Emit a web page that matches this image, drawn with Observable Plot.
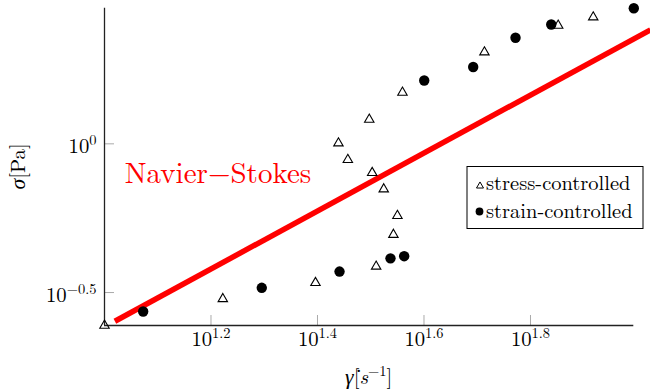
<!DOCTYPE html>
<html><head><meta charset="utf-8">
<script src="https://cdn.jsdelivr.net/npm/d3@7"></script>
<script src="https://cdn.jsdelivr.net/npm/@observablehq/plot@0.6"></script>
<style>body{margin:0;background:#fff} svg{display:block}</style>
</head><body><div id="chart"></div>
<script>
// ---- data ----
const stressRate  = [10.0, 16.68, 24.90, 32.37, 34.88, 35.49, 33.45, 31.82, 28.64, 27.50, 31.42, 36.27, 51.70, 71.12, 82.76];
const stressSigma = [0.245, 0.301, 0.341, 0.387, 0.495, 0.573, 0.704, 0.799, 0.884, 1.005, 1.207, 1.488, 2.033, 2.500, 2.666];
const strainRate  = [11.82, 19.74, 27.63, 34.44, 36.54, 39.85, 49.25, 59.14, 69.02, 98.63];
const strainSigma = [0.273, 0.328, 0.372, 0.412, 0.419, 1.633, 1.813, 2.273, 2.519, 2.858];
const nsRate  = [10.46, 106.0];
const nsSigma = [0.2532, 2.418];
const xTickExps = [1.2, 1.4, 1.6, 1.8];
const yTickExps = [-0.5, 0];
const seriesNames = ["stress-controlled", "strain-controlled"];
const annotationText = "Navier\u2212Stokes";

// ---- build ----
const W = 650, H = 391;
const mL = 104, mR = 650 - 633.3, mT = 7.7, mB = 391 - 325;
const plotW = W - mL - mR, plotH = H - mT - mB;
const stress = stressRate.map((x, i) => ({x, y: stressSigma[i]}));
const strain = strainRate.map((x, i) => ({x, y: strainSigma[i]}));
const ns = nsRate.map((x, i) => ({x, y: nsSigma[i]}));
const xDom = d3.extent([...stressRate, ...strainRate]);
const yDom = d3.extent([...stressSigma, ...strainSigma]);
const xTicks = xTickExps.map(e => 10 ** e);
const yTicks = yTickExps.map(e => 10 ** e);
const expOf = v => { const e = Math.round(Math.log10(v) * 10) / 10; return e === 0 ? "0" : (e < 0 ? "\u2212" : "") + Math.abs(e); };
const FONT = "Latin Modern Roman";
const GREEK = "Liberation Serif";
const FS = 20.7, FSUP = 14.5;

const svg = Plot.plot({
  width: W, height: H,
  marginLeft: mL, marginRight: mR, marginTop: mT, marginBottom: mB,
  style: {background: "#fff", overflow: "visible", color: "#000"},
  x: {type: "log", domain: xDom},
  y: {type: "log", domain: yDom},
  marks: [
    Plot.ruleX(xTicks, {stroke: "#aaa", strokeWidth: 1, insetTop: plotH - 10}),
    Plot.ruleY(yTicks, {stroke: "#aaa", strokeWidth: 1, insetRight: plotW - 10}),
    Plot.axisX(xTicks, {tickSize: 0, tickPadding: 0, tickFormat: expOf, label: null}),
    Plot.axisY(yTicks, {tickSize: 0, tickPadding: 8, tickFormat: expOf, label: null}),
    Plot.ruleX([xDom[0]], {stroke: "#222", strokeWidth: 1.3}),
    Plot.ruleY([yDom[0]], {stroke: "#222", strokeWidth: 1.3}),
    Plot.line(ns, {x: "x", y: "y", stroke: "#ff0000", strokeWidth: 5.5, strokeLinecap: "butt"}),
    Plot.dot(stress, {x: "x", y: "y", symbol: "triangle", r: 3.5, stroke: "#000", fill: "none", strokeWidth: 1.1}),
    Plot.dot(strain, {x: "x", y: "y", r: 5.2, fill: "#000", stroke: "none"}),
    Plot.text([annotationText], {x: 10.92, y: 0.795, text: d => d, textAnchor: "start", lineAnchor: "middle", fill: "#ff0000"})
  ]
});

const S = d3.select(svg);
const setFont = (sel, fam, size) => sel.attr("font-family", fam).style("font-family", fam)
  .attr("font-size", size).style("font-size", size + "px");
setFont(S, FONT, FS);
S.select('g[aria-label="text"]').selectAll("text").call(setFont, FONT, 29);
// superscript tick labels: 10^e
S.selectAll('g[aria-label="x-axis tick label"] text').each(function() {
  const e = this.textContent; const t = d3.select(this);
  t.text(null).attr("dy", 6).call(setFont, FONT, FS);
  t.append("tspan").text("10");
  t.append("tspan").attr("dy", -8).call(setFont, FONT, FSUP).text(e);
});
S.selectAll('g[aria-label="y-axis tick label"] text').each(function() {
  const e = this.textContent; const t = d3.select(this);
  t.text(null).attr("dy", 2.5).call(setFont, FONT, FS);
  t.append("tspan").text("10");
  t.append("tspan").attr("dy", -8).call(setFont, FONT, FSUP).text(e);
});

// axis titles
const xl = S.append("text").attr("x", mL + plotW / 2).attr("y", 384).attr("text-anchor", "middle")
  .call(setFont, FONT, FS).attr("fill", "#000");
xl.append("tspan").attr("font-style", "italic").style("font-style", "italic").call(setFont, GREEK, FS + 1).text("\u03b3\u0307");
xl.append("tspan").text("[");
xl.append("tspan").attr("font-style", "italic").style("font-style", "italic").text("s");
xl.append("tspan").attr("dy", -8).call(setFont, FONT, FSUP).text("\u22121");
xl.append("tspan").attr("dy", 8).text("]");

const yl = S.append("text").attr("transform", `translate(25,${mT + plotH / 2}) rotate(-90)`).attr("text-anchor", "middle")
  .call(setFont, FONT, FS).attr("fill", "#000");
yl.append("tspan").attr("font-style", "italic").style("font-style", "italic").call(setFont, GREEK, FS + 1).text("\u03c3");
yl.append("tspan").text("[Pa]");

// legend box
const lg = S.append("g");
lg.append("rect").attr("x", 467).attr("y", 166.5).attr("width", 176).attr("height", 62)
  .attr("fill", "#fff").attr("stroke", "#000").attr("stroke-width", 1);
const tri = d3.symbol(d3.symbolTriangle, Math.PI * 2.6 * 2.6)();
lg.append("path").attr("d", tri).attr("transform", "translate(480,186)").attr("fill", "none").attr("stroke", "#000").attr("stroke-width", 1);
lg.append("circle").attr("cx", 479.5).attr("cy", 211.5).attr("r", 3.9).attr("fill", "#000");
[[189.5, seriesNames[0]], [217.5, seriesNames[1]]].forEach(([y, s]) => {
  lg.append("text").attr("x", 486).attr("y", y).attr("text-anchor", "start")
    .call(setFont, FONT, 20.5).attr("fill", "#000").text(s);
});

document.getElementById("chart").appendChild(svg);
</script>
</body></html>
